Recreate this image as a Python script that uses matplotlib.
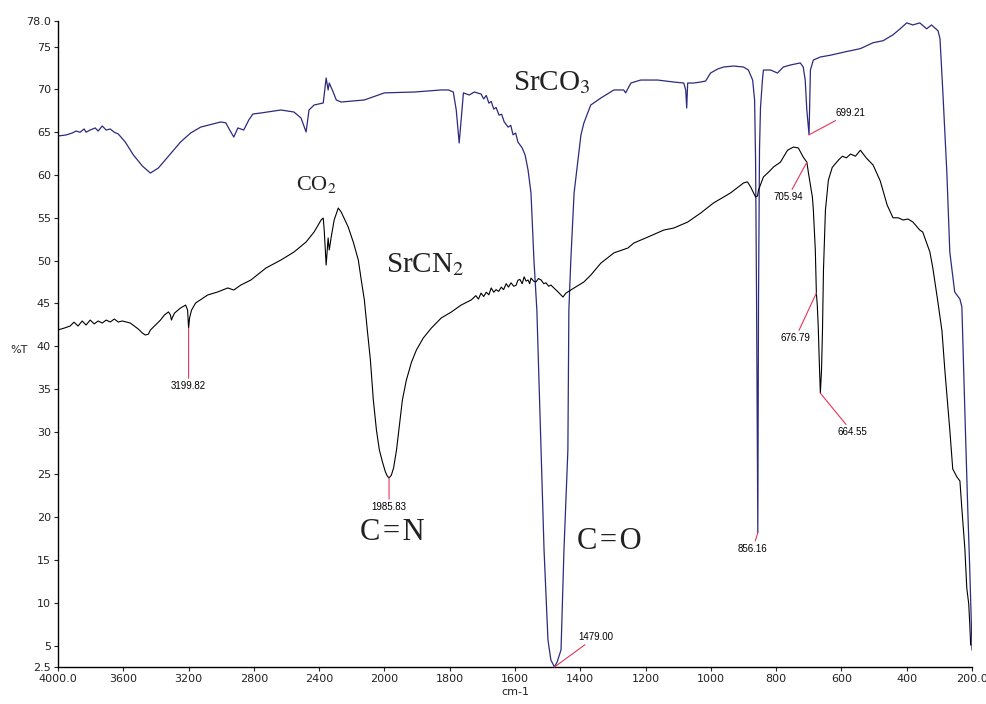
import numpy as np
import matplotlib
matplotlib.use("Agg")
import matplotlib.pyplot as plt

# SrCO3 spectrum (wavenumber cm-1, %T)
srco3_wn = [4000, 3951, 3914, 3889, 3865, 3840, 3828, 3803, 3772, 3754, 3729, 3705, 3680, 3655,
            3631, 3588, 3538, 3483, 3434, 3385, 3323, 3249, 3188, 3126, 3003, 2972, 2948, 2923,
            2898, 2862, 2831, 2806, 2757, 2634, 2554, 2511, 2480, 2462, 2431, 2375, 2357, 2345,
            2338, 2314, 2295, 2265, 2123, 2000, 1908, 1826, 1804, 1789, 1780, 1771, 1758, 1740,
            1725, 1704, 1696, 1688, 1680, 1673, 1665, 1658, 1649, 1641, 1633, 1621, 1613, 1606,
            1598, 1591, 1578, 1569, 1560, 1551,
            1542, 1533, 1520, 1511, 1499, 1490, 1479, 1471, 1459, 1450, 1438, 1435, 1429, 1419,
            1407, 1398, 1389, 1368, 1337, 1297, 1267, 1261, 1245, 1215, 1163, 1114, 1083, 1077,
            1074, 1071, 1053, 1031, 1016, 1001, 979, 961, 930, 900, 885, 872, 866, 863, 860,
            856.16, 854, 851, 848, 842, 839, 817, 796, 778, 756, 726, 717, 711, 706, 699.21, 695,
            686, 664, 634, 588, 542, 503, 472, 442, 420, 400, 381, 360, 339, 324, 304, 298, 289,
            277, 268, 253, 237, 231, 222, 213, 207, 202, 200]
srco3_t = [64.56, 64.68, 64.9, 65.14, 65.0, 65.38, 65.0, 65.26, 65.5, 65.14, 65.73, 65.26, 65.38, 65.0,
           64.8, 63.86, 62.34, 61.05, 60.23, 60.82, 62.2, 63.86, 64.9, 65.6, 66.2, 66.1, 65.26, 64.44,
           65.5, 65.26, 66.43, 67.13, 67.25, 67.6, 67.36, 66.66, 65.03, 67.6, 68.18, 68.42, 71.34, 69.94,
           70.75, 69.7, 68.77, 68.53, 68.77, 69.6, 69.7, 69.94, 69.94, 69.7, 67.6, 63.74, 69.6, 69.35,
           69.7, 69.47, 68.9, 69.3, 68.4, 68.6, 67.7, 67.9, 67.0, 67.1, 66.2, 65.6, 65.8, 64.7,
           64.9, 63.86, 63.16, 62.34, 60.58, 57.9,
           50.07, 44.2, 27.86, 16.17, 5.65, 3.3, 2.5, 3.08, 4.5, 16.17, 27.86, 44.2, 50.07, 57.9,
           61.75, 64.68, 66.08, 68.18, 69.0, 69.94, 69.94, 69.6, 70.75, 71.1, 71.1, 70.87, 70.75, 69.94,
           67.83, 70.75, 70.75, 70.87, 70.98, 71.92, 72.39, 72.62, 72.74, 72.62, 72.27, 71.1, 68.77, 61.75, 45.4,
           18.2, 45.4, 62.9, 67.83, 71.1, 72.27, 72.27, 71.92, 72.62, 72.86, 73.1, 72.62, 71.1, 67.6, 64.7, 72.27,
           73.44, 73.8, 74.0, 74.4, 74.77, 75.46, 75.7, 76.39, 77.09, 77.78, 77.54, 77.78, 77.09, 77.54, 76.85, 75.93, 69.47,
           60.23, 51.0, 46.33, 45.5, 44.57, 32.53, 20.96, 14.07, 7.6, 4.5]

# SrCN2 spectrum (wavenumber cm-1, %T)
srcn2_wn = [4000, 3963, 3926, 3902, 3877, 3852, 3828, 3803, 3778, 3754, 3729, 3705, 3680, 3655,
            3631, 3606, 3582, 3557, 3532, 3508, 3483, 3465, 3446, 3434, 3403, 3372, 3348, 3323,
            3311, 3305, 3298, 3286, 3249, 3218, 3206, 3199.82, 3194, 3182, 3157, 3083, 3022, 2960,
            2923, 2880, 2818, 2726, 2634, 2554, 2480, 2431, 2388, 2375, 2369, 2357, 2345, 2338,
            2326, 2308, 2283, 2265, 2222, 2191, 2160, 2142, 2123, 2105, 2086, 2068, 2049, 2031,
            2012, 1997, 1991, 1985.83, 1979, 1972, 1963, 1954, 1945, 1933, 1917, 1902, 1881, 1856,
            1826, 1795, 1765, 1734, 1720, 1712, 1704, 1696, 1688, 1680, 1673, 1665, 1658, 1650,
            1642, 1635, 1627, 1620, 1612, 1604, 1597, 1591, 1585, 1578, 1572, 1566,
            1560, 1555, 1551, 1543, 1536, 1528, 1520, 1512, 1505, 1497, 1490, 1468, 1453, 1444,
            1419, 1389, 1368, 1337, 1297,
            1254, 1236, 1193, 1144, 1114, 1071, 1031, 992, 940, 900, 888, 878, 869, 863, 857, 854,
            839, 823, 808, 787, 765, 747, 732, 717, 705.94, 701, 695, 689, 686, 680, 676.79, 674,
            671, 668, 664.55, 661, 658, 655, 649, 640, 628, 609, 597, 585, 572, 557, 542, 524, 503,
            481, 460, 442, 426, 411, 396, 381, 360, 351, 329, 320, 304, 292, 283, 277, 268, 259,
            246, 237, 231, 222, 216, 210, 207, 204]
srcn2_t = [41.9, 42.1, 42.35, 42.8, 42.35, 42.94, 42.47, 43.05, 42.6, 42.94, 42.7, 43.05, 42.82, 43.17,
           42.82, 42.94, 42.82, 42.7, 42.35, 42.0, 41.53, 41.3, 41.4, 41.88, 42.47, 43.05, 43.64, 44.0,
           43.64, 43.05, 43.4, 43.87, 44.46, 44.8, 44.2, 42.1, 43.29, 44.2, 45.04, 45.98, 46.33, 46.8,
           46.56, 47.14, 47.73, 49.13, 50.07, 51.0, 52.17, 53.34, 54.74, 54.97, 53.57, 49.48, 52.64, 51.24,
           52.76, 54.74, 56.14, 55.68, 53.92, 52.17, 50.07, 47.73, 45.4, 41.9, 38.38, 33.7, 30.2, 27.86,
           26.46, 25.3, 24.8, 24.6, 24.9, 25.75, 27.86, 30.8, 33.7, 36.0, 38.14, 39.55, 40.95, 42.12,
           43.29, 43.99, 44.8, 45.4, 45.9, 45.5, 46.2, 45.8, 46.3, 46.0, 46.8, 46.3, 46.6, 46.4,
           46.9, 46.6, 47.3, 46.9, 47.4, 47.0, 47.1, 47.7, 47.8, 47.3, 48.1, 47.6,
           47.73, 47.3, 47.96, 47.6, 47.5, 47.9, 47.73, 47.3, 47.4, 47.0, 47.14, 46.33, 45.74, 46.2,
           46.8, 47.5, 48.3, 49.7, 50.9,
           51.47, 52.05, 52.75, 53.57, 53.8, 54.5, 55.56, 56.73, 57.9, 59.07, 59.2, 58.6, 57.9, 57.43, 57.55, 58.25,
           59.77, 60.35, 60.94, 61.5, 62.9, 63.27, 63.16, 62.1, 61.5, 60.23, 58.83, 57.43, 55.9, 51.24, 46.2, 44.8,
           42.24, 38.38, 34.5, 37.2, 41.9, 48.9, 55.9, 59.4, 60.9, 61.75, 62.2, 62.0, 62.45, 62.2, 62.9, 62.0, 61.17,
           59.3, 56.5, 55.0, 55.0, 54.74, 54.86, 54.5, 53.57, 53.34, 51.0, 49.13, 45.04, 41.77, 37.1, 34.4, 30.2, 25.64,
           24.7, 24.24, 20.96, 16.4, 11.73, 9.86, 7.64, 5.07]

# marked peaks: (wavenumber, which spectrum, label)
peak_wn = [3199.82, 1985.83, 1479.00, 856.16, 699.21, 705.94, 676.79, 664.55]
peak_series = ["srcn2", "srcn2", "srco3", "srco3", "srco3", "srcn2", "srcn2", "srcn2"]
peak_txt = ["3199.82", "1985.83", "1479.00", "856.16", "699.21", "705.94", "676.79", "664.55"]
# label offsets in pixels
peak_off = [(0, -58), (0, -29), (41, 30), (-5, -16), (41, 22), (-19, -35), (-21, -45), (32, -39)]

x_ticks = [4000, 3600, 3200, 2800, 2400, 2000, 1800, 1600, 1400, 1200, 1000, 800, 600, 400, 200]
x_labels = ["4000.0", "3600", "3200", "2800", "2400", "2000", "1800", "1600", "1400",
            "1200", "1000", "800", "600", "400", "200.0"]
y_ticks = [2.5, 5, 10, 15, 20, 25, 30, 35, 40, 45, 50, 55, 60, 65, 70, 75, 78.0]
y_labels = ["2.5", "5", "10", "15", "20", "25", "30", "35", "40", "45", "50", "55", "60",
            "65", "70", "75", "78.0"]

blue = "#2d2a7e"
red = "#e8345c"


# half scale above 2000 cm-1, as on the spectrometer printout
def fwd(w):
    w = np.asarray(w, dtype=float)
    return np.where(w > 2000, 2000 + (w - 2000) / 2.0, w)


def inv(u):
    u = np.asarray(u, dtype=float)
    return np.where(u > 2000, 2000 + (u - 2000) * 2.0, u)


fig = plt.figure(figsize=(9.87, 7.04), dpi=100)
ax = fig.add_axes([58 / 987, 37 / 704, 914 / 987, 646 / 704])
ax.set_xscale("function", functions=(fwd, inv))

ax.plot(srco3_wn, srco3_t, color=blue, lw=0.9)
ax.plot(srcn2_wn, srcn2_t, color="black", lw=0.8)

ax.set_xlim(4000, 200)
ax.set_ylim(2.5, 78.0)

ax.set_xticks(x_ticks)
ax.set_xticklabels(x_labels)
ax.set_yticks(y_ticks)
ax.set_yticklabels(y_labels)
ax.xaxis.set_minor_locator(matplotlib.ticker.NullLocator())
ax.tick_params(direction="out", length=3, width=0.8, labelsize=8, colors="#222222", pad=2)
for s in ["top", "right"]:
    ax.spines[s].set_visible(False)
for s in ["left", "bottom"]:
    ax.spines[s].set_linewidth(1.0)

series = {"srco3": (srco3_wn, srco3_t), "srcn2": (srcn2_wn, srcn2_t)}
for wn, ser, txt, off in zip(peak_wn, peak_series, peak_txt, peak_off):
    xs, ys = series[ser]
    t = np.interp(wn, xs[::-1], ys[::-1])
    ax.annotate(txt, xy=(wn, t), xytext=off, textcoords="offset pixels",
                ha="center", va="center", fontsize=7, family="Liberation Sans",
                arrowprops=dict(arrowstyle="-", color=red, lw=0.8, shrinkA=0, shrinkB=0))

plt.rcParams["mathtext.fontset"] = "stix"
serif = ["Liberation Serif", "DejaVu Serif"]
fig.text(513 / 987, 1 - 90 / 704, r"SrCO$_3$", fontsize=21, family=serif, color="#222222")
fig.text(386 / 987, 1 - 272 / 704, r"SrCN$_2$", fontsize=21, family=serif, color="#222222")
fig.text(296 / 987, 1 - 190 / 704, r"CO$_2$", fontsize=16, family=serif, color="#222222")
fig.text(360 / 987, 1 - 540 / 704, "C\u200a=\u200aN", fontsize=22, family=serif, color="#222222")
fig.text(577 / 987, 1 - 549 / 704, "C\u200a=\u200aO", fontsize=22, family=serif, color="#222222")

fig.text(19 / 987, 1 - 350 / 704, "%T", fontsize=8, ha="center", va="center", color="#222222")
fig.text(515 / 987, 1 - 692 / 704, "cm-1", fontsize=8, ha="center", va="center", color="#222222")

fig.savefig("out.png", dpi=100)
